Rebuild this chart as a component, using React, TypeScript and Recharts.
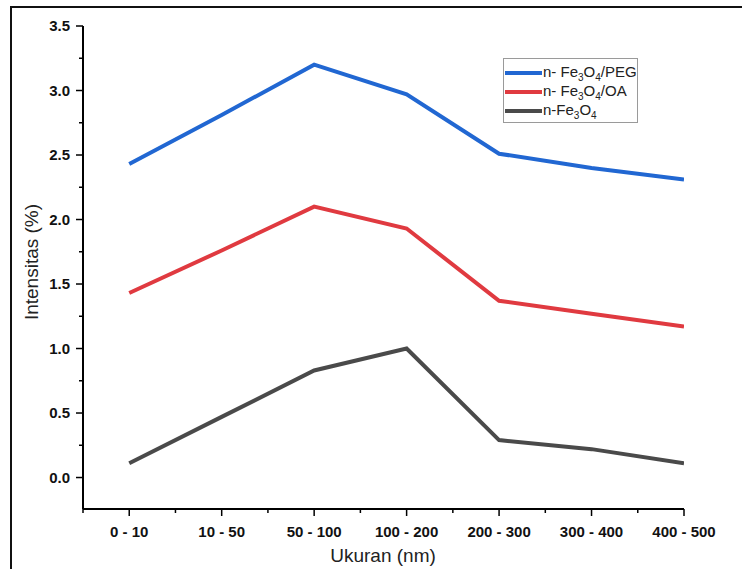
import { LineChart, Line, XAxis, YAxis } from "recharts";

const categories = ["0 - 10", "10 - 50", "50 - 100", "100 - 200", "200 - 300", "300 - 400", "400 - 500"];
const pegValues = [2.43, 2.81, 3.2, 2.97, 2.51, 2.4, 2.31];
const oaValues = [1.43, 1.76, 2.1, 1.93, 1.37, 1.27, 1.17];
const bareValues = [0.11, 0.47, 0.83, 1.0, 0.29, 0.22, 0.11];

const xTicks = [-0.5, 0, 0.5, 1, 1.5, 2, 2.5, 3, 3.5, 4, 4.5, 5, 5.5, 6];
const yTicks = [0, 0.25, 0.5, 0.75, 1, 1.25, 1.5, 1.75, 2, 2.25, 2.5, 2.75, 3, 3.25, 3.5];

const series = [
  { key: "peg", color: "#2167d2", suffix: "/PEG", prefix: "n- " },
  { key: "oa", color: "#e03a40", suffix: "/OA", prefix: "n- " },
  { key: "bare", color: "#4a4a4a", suffix: "", prefix: "n-" },
];

const data = categories.map((c, i) => ({
  x: i,
  name: c,
  peg: pegValues[i],
  oa: oaValues[i],
  bare: bareValues[i],
}));

const FONT = "'Liberation Sans', Arial, sans-serif";

function XTick({ x, y, payload }: any) {
  const v = payload.value as number;
  const major = Number.isInteger(v);
  return (
    <g>
      <line x1={x} x2={x} y1={y} y2={y + (major ? 7 : 4)} stroke="#000" strokeWidth={1.5} />
      {major && (
        <text x={x} y={y + 28} textAnchor="middle" fontFamily={FONT} fontWeight="bold" fontSize={15} fill="#111">
          {categories[v]}
        </text>
      )}
    </g>
  );
}

function YTick({ x, y, payload }: any) {
  const v = payload.value as number;
  const major = Math.abs(v * 2 - Math.round(v * 2)) < 1e-6;
  return (
    <g>
      <line x1={x - (major ? 7 : 4)} x2={x} y1={y} y2={y} stroke="#000" strokeWidth={1.5} />
      {major && (
        <text x={x - 13} y={y + 5} textAnchor="end" fontFamily={FONT} fontWeight="bold" fontSize={15} fill="#111">
          {v.toFixed(1)}
        </text>
      )}
    </g>
  );
}

function LegendBox() {
  return (
    <div
      style={{
        position: "absolute",
        left: 503,
        top: 58,
        border: "1px solid #9a9a9a",
        width: 135,
        height: 65,
        boxSizing: "border-box",
        padding: "4px 0 0 1px",
        fontFamily: FONT,
        fontSize: 15,
        color: "#222",
        background: "#fff",
      }}
    >
      {series.map((s) => (
        <div key={s.key} style={{ display: "flex", alignItems: "center", height: 19, whiteSpace: "nowrap" }}>
          <span style={{ display: "inline-block", width: 37, height: 4, background: s.color, marginRight: 1 }} />
          <span>
            {s.prefix}Fe<sub style={{ fontSize: 10 }}>3</sub>O<sub style={{ fontSize: 10 }}>4</sub>
            {s.suffix}
          </span>
        </div>
      ))}
    </div>
  );
}

export default function App() {
  return (
    <div style={{ position: "fixed", left: 0, top: 0, width: 742, height: 569, background: "#fff", overflow: "hidden" }}>
      <div
        style={{
          position: "absolute",
          left: 10,
          top: 6,
          width: 760,
          height: 600,
          borderLeft: "2px solid #111",
          borderTop: "2px solid #111",
        }}
      />
      <div style={{ position: "absolute", left: 0, top: 0 }}>
        <LineChart width={742} height={569} data={data} margin={{ top: 26, right: 58, bottom: 20, left: 23 }}>
          <XAxis
            dataKey="x"
            type="number"
            domain={[-0.5, 6]}
            ticks={xTicks}
            interval={0}
            height={40}
            tickSize={0}
            tickMargin={0}
            tick={<XTick />}
            axisLine={{ stroke: "#000", strokeWidth: 2 }}
            tickLine={false}
            allowDataOverflow
          />
          <YAxis
            type="number"
            domain={[-0.244, 3.5]}
            ticks={yTicks}
            interval={0}
            width={60}
            tickSize={0}
            tickMargin={0}
            tick={<YTick />}
            axisLine={{ stroke: "#000", strokeWidth: 2 }}
            tickLine={false}
            allowDataOverflow
          />
          {series.map((s) => (
            <Line
              key={s.key}
              dataKey={s.key}
              type="linear"
              stroke={s.color}
              strokeWidth={4}
              dot={false}
              activeDot={false}
              isAnimationActive={false}
            />
          ))}
        </LineChart>
      </div>
      <LegendBox />
      <div
        style={{
          position: "absolute",
          left: 32,
          top: 262,
          transform: "translate(-50%, -50%) rotate(-90deg)",
          fontFamily: FONT,
          fontSize: 19,
          color: "#222",
          whiteSpace: "nowrap",
        }}
      >
        Intensitas (%)
      </div>
      <div
        style={{
          position: "absolute",
          left: 383,
          top: 556,
          transform: "translate(-50%, -50%)",
          fontFamily: FONT,
          fontSize: 19,
          color: "#222",
          whiteSpace: "nowrap",
        }}
      >
        Ukuran (nm)
      </div>
    </div>
  );
}
